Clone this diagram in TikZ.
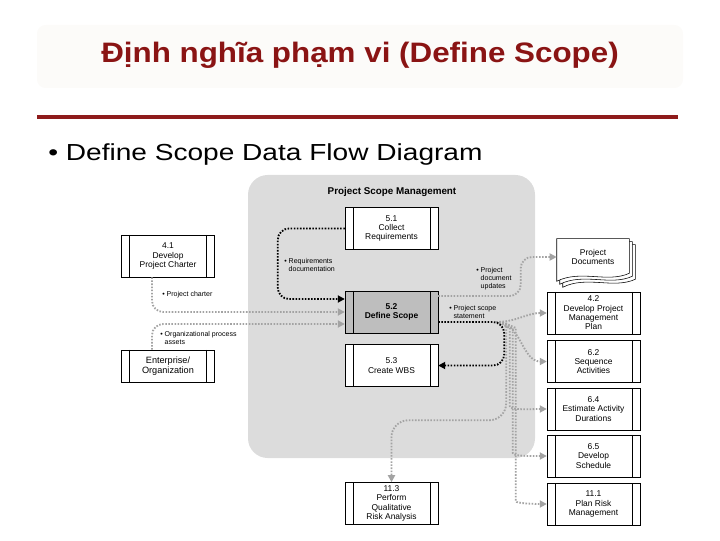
\documentclass[tikz,border=0pt]{standalone}
\usepackage{fontspec}
\setmainfont{Liberation Sans}
\usetikzlibrary{positioning,arrows.meta,calc}
\definecolor{titlec}{HTML}{8A1414}
\definecolor{rulec}{HTML}{8E1B1B}
\definecolor{titlebg}{HTML}{FCFBF9}
\definecolor{areac}{HTML}{DCDCDC}
\definecolor{activec}{HTML}{BEBEBE}
\definecolor{flowgc}{HTML}{A3A3A3}

\begin{document}
\begin{tikzpicture}[x=0.025cm,y=0.025cm,
  procbox/.style={draw, thin, fill=white, minimum width=2.32cm, minimum height=1.05cm,
    align=center, inner sep=0.5pt, font=\fontsize{6}{6.6}\selectfont,
    path picture={
      \draw ([xshift=0.2cm]path picture bounding box.north west) -- ([xshift=0.2cm]path picture bounding box.south west);
      \draw ([xshift=-0.2cm]path picture bounding box.north east) -- ([xshift=-0.2cm]path picture bounding box.south east);}},
  flowk/.style={black, line width=1.3pt, dash pattern=on 1.1pt off 1.1pt,
    -{Triangle[length=5pt,width=5pt]}, rounded corners=8pt},
  flowg/.style={flowk, flowgc},
  lbl/.style={font=\fontsize{5}{5.6}\selectfont, align=left, anchor=west, inner sep=0pt}]
  \useasboundingbox (0,0) rectangle (720,540);

  % heading
  \fill[titlebg, rounded corners=6pt] (37,452) rectangle (683,515);
  \node[titlec, font=\fontsize{20}{24}\selectfont\bfseries] (title) at (360,485) {\scalebox{1.115}[1]{Định nghĩa phạm vi (Define Scope)}};
  \draw[rulec, line width=2.2pt] (37,423) -- (678,423);
  \node[anchor=west, font=\fontsize{16.5}{20}\selectfont, inner sep=0pt] (bullet) at (48,385) {\scalebox{1.21}[1]{\textbullet\ Define Scope Data Flow Diagram}};

  % knowledge area
  \fill[areac, rounded corners=14pt] (248,82) rectangle (535,365);
  \node[font=\fontsize{7}{8}\selectfont\bfseries] (psm) at (392,348) {Project Scope Management};

  \node[procbox] (cr)  at (391.5,311.5) {5.1\\Collect\\Requirements};
  \node[procbox, fill=activec, font=\fontsize{6}{6.6}\selectfont\bfseries] (ds) at (391.5,228) {5.2\\Define Scope};
  \node[procbox] (wbs) at (391.5,174.5) {5.3\\Create WBS};
  \node[procbox] (dpc) at (168,284) {4.1\\Develop\\Project Charter};
  \node[procbox, minimum height=0.8cm, font=\fontsize{6.5}{7.5}\selectfont] (ent) at (168,174) {Enterprise/\\Organization};
  \node[procbox] (qra) at (391.5,36.5) {11.3\\Perform\\Qualitative\\Risk Analysis};

  % project documents stack
  \node[minimum width=1.8cm, minimum height=0.9cm, inner sep=0pt] (pd) at (593,283) {};
  \foreach \o in {6,3,0} {
    \draw[fill=white, thin] ($(pd.north west)+(\o,-\o)$) -- ($(pd.north east)+(\o,-\o)$)
      -- ($(pd.south east)+(\o,2-\o)$) .. controls ($(pd.south east)+(\o-22,-8-\o)$) and ($(pd.south west)+(\o+24,6-\o)$) .. ($(pd.south west)+(\o,-6-\o)$) -- cycle;
  }
  \node[align=center, font=\fontsize{6}{6.6}\selectfont] at (pd) {Project\\Documents};

  \node[procbox] (dpm) at (593.5,227)   {4.2\\Develop Project\\Management\\Plan};
  \node[procbox] (seq) at (593.5,178.5) {6.2\\Sequence\\Activities};
  \node[procbox] (est) at (593.5,131)   {6.4\\Estimate Activity\\Durations};
  \node[procbox] (sch) at (593.5,84)    {6.5\\Develop\\Schedule};
  \node[procbox] (prm) at (593.5,36)    {11.1\\Plan Risk\\Management};

  % inputs
  \draw[flowk] (cr.west) -| ($(ds.west)+(-67,13)$) -- ($(ds.west)+(0,13)$);
  \draw[flowg] ($(dpc.south)+(-16,0)$) |- (ds.west);
  \draw[flowg] ($(ent.north)+(-16,0)$) |- ($(ds.west)+(0,-12)$);
  \node[lbl] (lreq) at (284,275) {\textbullet\ Requirements\\\hphantom{\textbullet\ }documentation};
  \node[lbl] (lpc)  at (162,245) {\textbullet\ Project charter};
  \node[lbl] (lopa) at (160,202) {\textbullet\ Organizational process\\\hphantom{\textbullet\ }assets};

  % outputs
  \coordinate (jn) at ($(ds.east)+(58,-10)$);
  \draw[flowg] ($(ds.east)+(0,16)$) -| ($(pd.west)+(-36,0)$) -- (pd.west);
  \draw[flowg] (jn) to[out=0,in=180] (dpm.west);
  \draw[flowg] (jn) to[out=0,in=180] (seq.west);
  \draw[flowg] (jn) to[out=0,in=90] ($(est.west)+(-37,70)$) -- ($(est.west)+(-37,14)$) to[out=-90,in=180] (est.west);
  \draw[flowg] (jn) to[out=0,in=90] ($(sch.west)+(-34,117)$) -- ($(sch.west)+(-34,14)$) to[out=-90,in=180] (sch.west);
  \draw[flowg] (jn) to[out=0,in=90] ($(prm.west)+(-31,165)$) -- ($(prm.west)+(-31,14)$) to[out=-90,in=180] (prm.west);
  \draw[flowg, rounded corners=12pt] (jn) to[out=0,in=90] ($(jn)+(10,-17)$) |- ($(qra.north)+(0,62)$) -- (qra.north);
  \draw[flowk] ($(ds.east)+(0,-10)$) -| ($(wbs.east)+(66,0)$) -- (wbs.east);
  \node[lbl] (lpdu) at (476,261) {\textbullet\ Project\\\hphantom{\textbullet\ }document\\\hphantom{\textbullet\ }updates};
  \node[lbl] (lpss) at (449,228) {\textbullet\ Project scope\\\hphantom{\textbullet\ }statement};
\end{tikzpicture}
\end{document}
